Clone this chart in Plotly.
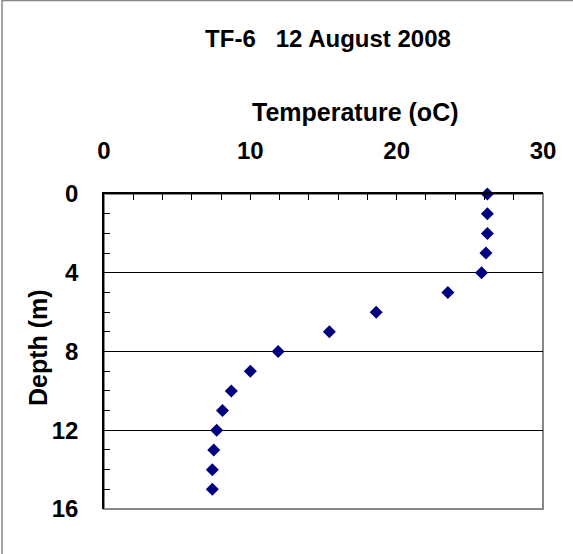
import plotly.graph_objects as go

# TF-6 profile, 12 August 2008
depth_m = [0, 1, 2, 3, 4, 5, 6, 7, 8, 9, 10, 11, 12, 13, 14, 15]
temp_c = [26.2, 26.2, 26.2, 26.1, 25.8, 23.5, 18.6, 15.4, 11.9, 10.0,
          8.7, 8.1, 7.7, 7.5, 7.4, 7.4]

x_ticks = [0, 10, 20, 30]
y_ticks = [0, 4, 8, 12, 16]

FONT = "Arial, Liberation Sans, sans-serif"
BOLD = dict(family=FONT, color='black', weight='bold')

fig = go.Figure()

fig.add_trace(go.Scatter(
    x=temp_c,
    y=depth_m,
    mode='markers',
    marker=dict(symbol='diamond', size=10, color='#000080'),
    showlegend=False,
    cliponaxis=False,
))

fig.update_layout(
    width=573,
    height=554,
    margin=dict(l=104, r=30, t=194, b=45),
    paper_bgcolor='white',
    plot_bgcolor='white',
    font=dict(family=FONT, color='black'),
    title=dict(
        text='TF-6   12 August 2008',
        x=(328 - 104) / 439, xref='paper', xanchor='center',
        y=1 - 39 / 554, yref='container', yanchor='middle',
        font=dict(size=24, **BOLD),
    ),
    xaxis=dict(
        range=[0, 30],
        side='top',
        tickvals=x_ticks,
        tickfont=dict(size=24, **BOLD),
        ticklabelstandoff=24,
        ticks='inside', ticklen=6, tickcolor='black',
        minor=dict(dtick=2, ticks='inside', ticklen=6, tickcolor='black'),
        showline=True, linecolor='black', linewidth=1.5,
        showgrid=False, zeroline=False,
    ),
    yaxis=dict(
        range=[16, 0],
        tickvals=y_ticks,
        ticks='inside', ticklen=6, tickcolor='black',
        minor=dict(dtick=1, ticks='inside', ticklen=6, tickcolor='black'),
        tickfont=dict(size=24, **BOLD),
        ticklabelstandoff=19,
        showline=True, linecolor='black', linewidth=1.5,
        showgrid=True, gridcolor='black', gridwidth=1,
        zeroline=False,
    ),
    annotations=[
        dict(text='Temperature (oC)',
             xref='paper', yref='paper',
             x=(355 - 104) / 439, y=(509 - 112) / 315,
             xanchor='center', yanchor='middle',
             showarrow=False, font=dict(size=25, **BOLD)),
        dict(text='Depth (m)', textangle=-90,
             xref='paper', yref='paper',
             x=(38 - 104) / 439, y=(509 - 348) / 315,
             xanchor='center', yanchor='middle',
             showarrow=False, font=dict(size=25, **BOLD)),
    ],
    shapes=[
        # grey frame on the right and bottom of the plot area
        dict(type='rect', xref='paper', yref='paper', x0=0, x1=1, y0=0, y1=1,
             line=dict(color='#888888', width=2), layer='below'),
        # outer chart border (top and left visible)
        dict(type='rect', xref='paper', yref='paper',
             x0=(2 - 104) / 439, x1=1.3, y0=-0.4, y1=(509 - 0.5) / 315,
             line=dict(color='#888888', width=1.5), layer='below'),
    ],
)

# drop the default page margin so the figure starts at the window corner
fig.write_html("out.html", config={'displayModeBar': False},
               post_script="document.body.style.margin = '0';")
